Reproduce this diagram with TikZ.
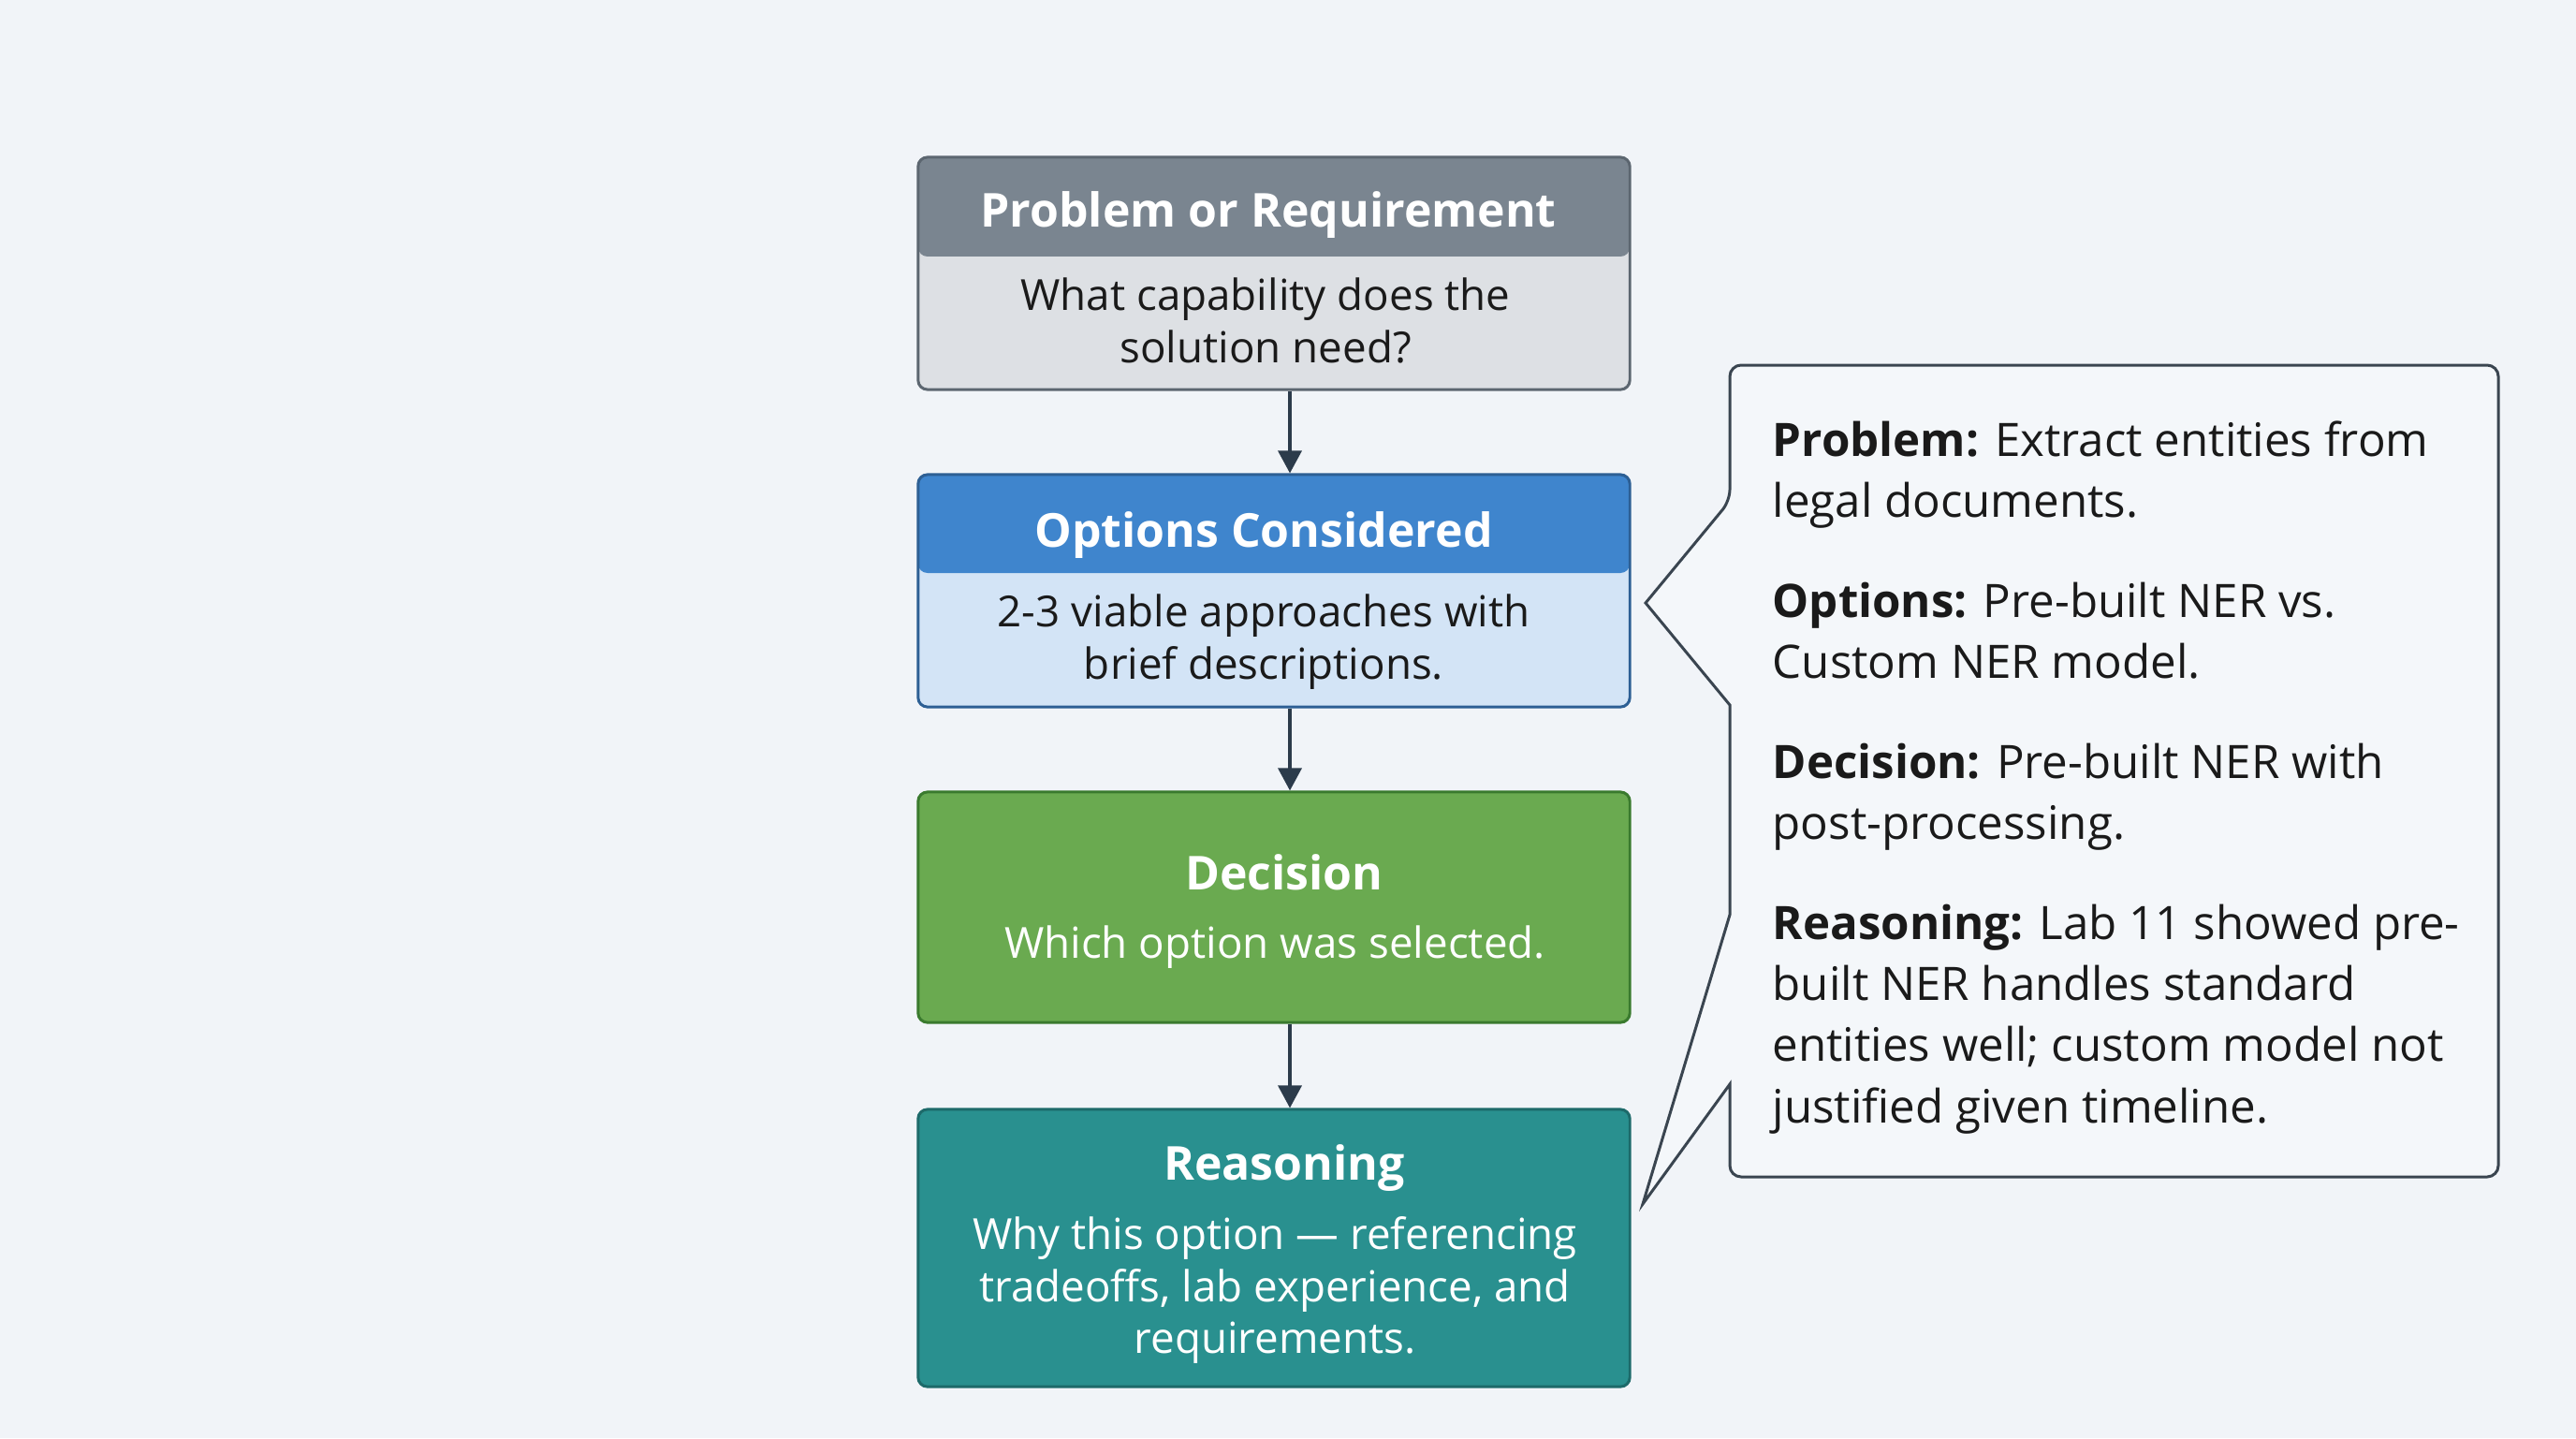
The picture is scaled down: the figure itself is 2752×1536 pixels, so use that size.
\documentclass[tikz,border=0pt]{standalone}
\usepackage{fontspec}
\setmainfont{Open Sans}
\usetikzlibrary{arrows.meta}
\definecolor{bg}{HTML}{F1F4F8}
\definecolor{ghead}{HTML}{7A8590}
\definecolor{gbody}{HTML}{DDE0E4}
\definecolor{gborder}{HTML}{5C6670}
\definecolor{bhead}{HTML}{3F85CD}
\definecolor{bbody}{HTML}{D3E4F6}
\definecolor{bborder}{HTML}{2D5F94}
\definecolor{gfill}{HTML}{6AAA50}
\definecolor{gline}{HTML}{3A7A2E}
\definecolor{tfill}{HTML}{29908F}
\definecolor{tline}{HTML}{1D6A6A}
\definecolor{arrowcol}{HTML}{2C3B4B}
\definecolor{calloutline}{HTML}{3A4550}
\definecolor{calloutfill}{HTML}{F4F7FA}
\definecolor{ink}{HTML}{1A1A1A}
\begin{document}
\begin{tikzpicture}[x=0.01cm,y=-0.01cm,
  box/.style={draw, line width=0.85pt, rounded corners=1mm, minimum width=7.6cm, inner sep=0pt},
  title/.style={font=\fontsize{14.2}{17}\selectfont\bfseries, text=white, inner sep=0pt},
  body/.style={font=\fontsize{13}{15.9}\selectfont, align=center, inner sep=0pt},
  ctext/.style={font=\fontsize{14}{18.6}\selectfont, align=left, text=ink, inner sep=0pt, anchor=north west},
  arr/.style={draw=arrowcol, line width=0.95pt, -{Triangle[width=2.5mm,length=2.4mm]}}
]
\fill[bg] (0,0) rectangle (2752,1536);
\useasboundingbox (0,0) rectangle (2752,1536);

% boxes
\node[box, draw=gborder, fill=gbody, minimum height=2.48cm,
  path picture={\fill[ghead] (path picture bounding box.north west) rectangle ([yshift=-10.6mm]path picture bounding box.north east);}]
  (b1) at (1361,292) {};
\node[box, draw=bborder, fill=bbody, minimum height=2.48cm,
  path picture={\fill[bhead] (path picture bounding box.north west) rectangle ([yshift=-10.5mm]path picture bounding box.north east);}]
  (b2) at (1361,631) {};
\node[box, draw=gline, fill=gfill, minimum height=2.46cm] (b3) at (1361,969) {};
\node[box, draw=tline, fill=tfill, minimum height=2.96cm] (b4) at (1361,1333) {};

% texts
\node[title] (t1) at (1355,230) {Problem or Requirement};
\node[body, text=ink] (d1) at (1352,342) {What capability does the\\solution need?};
\node[title] (t2) at (1350,572) {Options Considered};
\node[body, text=ink] (d2) at (1350,686) {2-3 viable approaches with\\brief descriptions.};
\node[title] (t3) at (1372,932) {Decision};
\node[body, text=white] (d3) at (1362,1012) {Which option was selected.};
\node[title] (t4) at (1372,1248) {Reasoning};
\node[body, text=white] (d4) at (1362,1378) {Why this option — referencing\\tradeoffs, lab experience, and\\requirements.};

% arrows
\draw[arr] ([xshift=1.7mm]b1.south) -- ([xshift=1.7mm]b2.north);
\draw[arr] ([xshift=1.7mm]b2.south) -- ([xshift=1.7mm]b3.north);
\draw[arr] ([xshift=1.7mm]b3.south) -- ([xshift=1.7mm]b4.north);

% callout
\coordinate (tipA) at (1758,644);
\coordinate (tipB) at (1755,1286);
\draw[draw=calloutline, fill=calloutfill, line width=0.85pt, line join=miter]
  (2250,390) [rounded corners=1.2mm] -- (1848,390) -- (1848,535) [sharp corners] -- (tipA) -- (1848,753) -- (1848,977) -- (tipB) -- (1848,1158) [rounded corners=1.2mm] -- (1848,1257) -- (2669,1257) -- (2669,390) -- cycle;

\node[ctext] (p1) at (1893,449) {\textbf{Problem:} Extract entities from\\legal documents.};
\node[ctext] (p2) at (1893,621) {\textbf{Options:} Pre-built NER vs.\\Custom NER model.};
\node[ctext] (p3) at (1893,793) {\textbf{Decision:} Pre-built NER with\\post-processing.};
\node[ctext] (p4) at (1893,965) {\textbf{Reasoning:} Lab 11 showed pre-\\built NER handles standard\\entities well; custom model not\\justified given timeline.};
\end{tikzpicture}
\end{document}
